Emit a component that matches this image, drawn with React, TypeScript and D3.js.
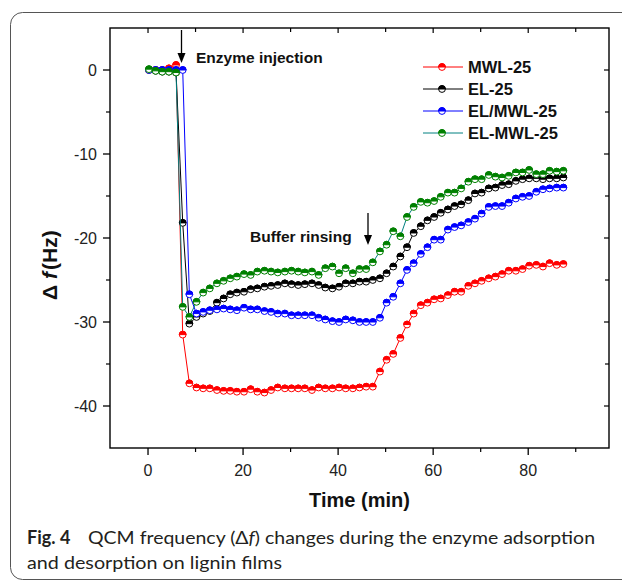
import React from "react";
import * as d3 from "d3";

const times = [0.2, 1.6, 3.0, 4.4, 5.9, 7.3, 8.7, 10.2, 11.6, 13.0, 14.5, 15.9, 17.3, 18.7, 20.2, 21.6, 23.0, 24.5, 25.9, 27.3, 28.8, 30.2, 31.6, 33.0, 34.5, 35.9, 37.3, 38.8, 40.2, 41.6, 43.1, 44.5, 45.9, 47.3, 48.8, 50.2, 51.6, 53.1, 54.5, 55.9, 57.4, 58.8, 60.2, 61.6, 63.1, 64.5, 65.9, 67.4, 68.8, 70.2, 71.7, 73.1, 74.5, 75.9, 77.4, 78.8, 80.2, 81.7, 83.1, 84.5, 86.0, 87.4];

const mwl25 = [0, 0, 0, 0.2, 0.6, -31.5, -37.3, -37.8, -37.9, -37.9, -38.1, -38.2, -38.2, -38.3, -38.3, -38.0, -38.3, -38.4, -38.1, -37.8, -37.9, -37.9, -37.9, -37.9, -38.1, -37.8, -37.9, -37.9, -37.8, -37.9, -37.9, -37.8, -37.7, -37.7, -35.9, -34.5, -33.8, -31.9, -30.3, -29.0, -28.0, -27.7, -27.3, -27.2, -26.8, -26.4, -26.4, -25.7, -25.4, -25.1, -24.8, -24.6, -24.3, -23.9, -23.9, -23.7, -23.3, -23.2, -23.4, -23.0, -23.2, -23.1];

const el25 = [0, -0.1, -0.2, -0.2, -0.3, -18.2, -30.2, -29.4, -29.0, -28.7, -27.7, -27.2, -26.7, -26.5, -26.4, -26.1, -26.0, -25.8, -25.7, -25.6, -25.4, -25.5, -25.6, -25.5, -25.4, -25.6, -25.9, -26.0, -25.8, -25.4, -25.4, -25.2, -25.2, -25.0, -24.8, -24.2, -23.4, -22.2, -21.1, -19.4, -18.6, -17.9, -17.5, -17.0, -16.6, -16.2, -16.0, -15.5, -14.7, -14.6, -14.1, -14.0, -13.7, -13.6, -13.2, -13.0, -12.9, -12.9, -13.0, -12.9, -12.9, -12.8];

const elSlashMwl25 = [0, 0, 0, 0, 0, 0, -26.7, -29.0, -28.8, -28.6, -28.5, -28.4, -28.5, -28.6, -28.3, -28.5, -28.5, -28.7, -28.8, -29.0, -29.0, -29.2, -29.2, -29.2, -29.2, -29.5, -29.7, -29.9, -30.0, -29.7, -29.8, -30.0, -30.0, -30.0, -29.5, -27.7, -27.0, -25.4, -23.8, -23.0, -21.9, -21.1, -20.2, -20.2, -19.0, -18.7, -18.5, -18.1, -17.7, -17.1, -16.3, -16.2, -16.2, -15.8, -15.3, -15.1, -15.0, -14.5, -14.2, -14.1, -14.0, -14.0];

const elDashMwl25 = [0.1, -0.1, -0.2, -0.2, -0.3, -28.2, -29.4, -27.6, -26.5, -26.0, -25.4, -25.1, -24.8, -24.6, -24.3, -24.4, -24.0, -23.9, -24.0, -24.1, -24.0, -23.9, -24.0, -24.1, -24.0, -24.4, -23.6, -23.4, -24.2, -23.6, -24.2, -23.7, -23.7, -22.9, -21.6, -20.8, -19.2, -19.8, -17.5, -16.3, -15.7, -15.8, -15.6, -15.1, -14.6, -14.6, -14.1, -13.3, -13.0, -13.0, -12.5, -12.7, -12.8, -12.6, -12.2, -12.2, -11.9, -12.4, -12.4, -12.0, -12.1, -12.0];

const seriesNames = ["MWL-25", "EL-25", "EL/MWL-25", "EL-MWL-25"];
const seriesValues = [mwl25, el25, elSlashMwl25, elDashMwl25];
const lineColors = ["#ff0000", "#000000", "#0000ff", "#008080"];
const markerColors = ["#ff0000", "#000000", "#0000ff", "#008000"];

const xMajorTicks = [0, 20, 40, 60, 80];
const xMinorTicks = [10, 30, 50, 70, 90];
const yMajorTicks = [0, -10, -20, -30, -40];
const yMinorTicks = [-5, -15, -25, -35];

const PL = 110, PR = 609, PT = 28, PB = 448;
const x = d3.scaleLinear().domain([-8, 97]).range([PL, PR]);
const y = d3.scaleLinear().domain([-45, 5]).range([PB, PT]);

const R = 3.4;

function Marker({ cx, cy, color }: { cx: number; cy: number; color: string }) {
  return (
    <g>
      <circle cx={cx} cy={cy} r={R} fill="#fff" stroke={color} strokeWidth={1} />
      <path d={`M${cx - R},${cy} A${R},${R} 0 0 1 ${cx + R},${cy} Z`} fill={color} stroke={color} strokeWidth={1} />
    </g>
  );
}

export default function App() {
  const line = d3
    .line<number>()
    .x((_, i) => x(times[i]))
    .y((d) => y(d));

  const axisFont = "'Liberation Sans', Arial, sans-serif";

  return (
    <svg width={622} height={582} style={{ position: "absolute", left: 0, top: 0, background: "#fff" }}>
      <rect x={0} y={0} width={622} height={582} fill="#fff" />
      {/* outer frame */}
      <rect x={10.5} y={12.5} width={700} height={567} rx={12} fill="none" stroke="#555" strokeWidth={1} />

      {/* plot frame */}
      <rect x={PL} y={PT} width={PR - PL} height={PB - PT} fill="none" stroke="#000" strokeWidth={1.4} />

      {/* bottom ticks */}
      {xMajorTicks.map((t) => (
        <g key={"xm" + t}>
          <line x1={x(t)} x2={x(t)} y1={PB} y2={PB + 7} stroke="#000" strokeWidth={1.3} />
          <line x1={x(t)} x2={x(t)} y1={PT} y2={PT + 5} stroke="#000" strokeWidth={1.2} />
          <text x={x(t)} y={PB + 28} textAnchor="middle" fontFamily={axisFont} fontSize={16} fill="#222">
            {t}
          </text>
        </g>
      ))}
      {xMinorTicks.map((t) => (
        <g key={"xn" + t}>
          <line x1={x(t)} x2={x(t)} y1={PB} y2={PB + 4} stroke="#000" strokeWidth={1.2} />
          <line x1={x(t)} x2={x(t)} y1={PT} y2={PT + 4} stroke="#000" strokeWidth={1.2} />
        </g>
      ))}
      {/* left ticks */}
      {yMajorTicks.map((t) => (
        <g key={"ym" + t}>
          <line x1={PL - 7} x2={PL} y1={y(t)} y2={y(t)} stroke="#000" strokeWidth={1.3} />
          <line x1={PR - 5} x2={PR} y1={y(t)} y2={y(t)} stroke="#000" strokeWidth={1.2} />
          <text x={PL - 13} y={y(t)} dy="0.36em" textAnchor="end" fontFamily={axisFont} fontSize={16} fill="#222">
            {t}
          </text>
        </g>
      ))}
      {yMinorTicks.map((t) => (
        <g key={"yn" + t}>
          <line x1={PL - 4} x2={PL} y1={y(t)} y2={y(t)} stroke="#000" strokeWidth={1.2} />
          <line x1={PR - 4} x2={PR} y1={y(t)} y2={y(t)} stroke="#000" strokeWidth={1.2} />
        </g>
      ))}

      {/* axis titles */}
      <text x={(PL + PR) / 2} y={507} textAnchor="middle" fontFamily={axisFont} fontWeight="bold" fontSize={20} fill="#111">
        Time (min)
      </text>
      <g transform="translate(57,0) rotate(-90)">
        <text fontFamily={axisFont} fontWeight="bold" fontSize={21} fill="#111">
          <tspan x={-300} y={0}>Δ</tspan>
          <tspan x={-279} y={0} fontStyle="italic">f</tspan>
          <tspan x={-270} y={0}>(Hz)</tspan>
        </text>
      </g>

      {/* series */}
      {seriesValues.map((vals, si) => (
        <g key={"s" + si}>
          <path d={line(vals) || ""} fill="none" stroke={lineColors[si]} strokeWidth={1} />
          {vals.map((v, i) => (
            <Marker key={i} cx={x(times[i])} cy={y(v)} color={markerColors[si]} />
          ))}
        </g>
      ))}

      {/* annotations */}
      <line x1={181.5} x2={181.5} y1={30} y2={55} stroke="#000" strokeWidth={1.3} />
      <path d="M177.5,53 L185.5,53 L181.5,63 Z" fill="#000" />
      <text x={196} y={63} fontFamily={axisFont} fontWeight="bold" fontSize={15.5} fill="#111">
        Enzyme injection
      </text>
      <line x1={368} x2={368} y1={213} y2={237} stroke="#000" strokeWidth={1.3} />
      <path d="M364,235 L372,235 L368,245 Z" fill="#000" />
      <text x={250} y={242} fontFamily={axisFont} fontWeight="bold" fontSize={15.5} fill="#111">
        Buffer rinsing
      </text>

      {/* legend */}
      {seriesNames.map((name, si) => {
        const cy = 67 + si * 22;
        return (
          <g key={"l" + si}>
            <line x1={423} x2={463} y1={cy} y2={cy} stroke={lineColors[si]} strokeWidth={1} />
            <Marker cx={442} cy={cy} color={markerColors[si]} />
            <text x={468} y={cy} dy="0.36em" fontFamily={axisFont} fontWeight="bold" fontSize={16.5} fill="#111">
              {name}
            </text>
          </g>
        );
      })}

      {/* caption */}
      <text x={27} y={544} fontFamily="Lato, 'Noto Sans', sans-serif" fontSize={18} fill="#231f20">
        <tspan fontWeight="bold">Fig. 4</tspan>
      </text>
      <text x={88} y={544} fontFamily="Lato, 'Noto Sans', sans-serif" fontSize={18} fill="#231f20" textLength={507} lengthAdjust="spacingAndGlyphs">
        QCM frequency (Δ<tspan fontStyle="italic">f</tspan>) changes during the enzyme adsorption
      </text>
      <text x={27} y={569} fontFamily="Lato, 'Noto Sans', sans-serif" fontSize={18} fill="#231f20" textLength={255} lengthAdjust="spacingAndGlyphs">
        and desorption on lignin films
      </text>
    </svg>
  );
}
